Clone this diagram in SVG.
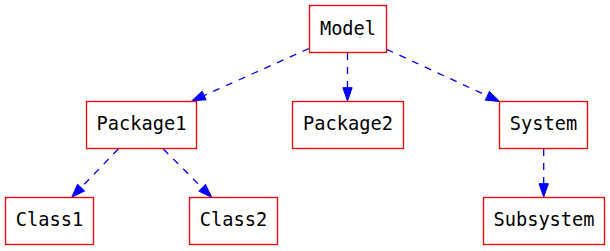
<svg xmlns="http://www.w3.org/2000/svg" width="610" height="251" viewBox="0 0 610 251">
<style>
.node rect{fill:#fff;stroke:#ff0000;stroke-width:1.33}
.node text{font-family:"DejaVu Sans Mono","Liberation Mono",monospace;font-size:18.67px;fill:#000;text-anchor:middle}
.edge{fill:none;stroke:#0000ff;stroke-width:1.33;stroke-dasharray:7,7}
</style>
<defs>
<marker id="arr" markerUnits="userSpaceOnUse" markerWidth="16" markerHeight="12" refX="0" refY="6" orient="auto" viewBox="0 0 16 12" overflow="visible">
<path d="M0,1.33 L13.33,6 L0,10.67 Z" fill="#0000ff" stroke="#0000ff" stroke-width="1"/>
</marker>
</defs>
<rect width="610" height="251" fill="#fff"/>
<g id="edges">
<path class="edge" d="M309,48.5 L204.1,95.5" marker-end="url(#arr)"/>
<path class="edge" d="M347.5,53 L347.5,87.7" marker-end="url(#arr)"/>
<path class="edge" d="M386.7,49.3 L487.4,95.9" marker-end="url(#arr)"/>
<path class="edge" d="M543.7,149 L543.7,183.7" marker-end="url(#arr)"/>
<path class="edge" d="M118.3,149 L80.95,187.7" marker-end="url(#arr)"/>
<path class="edge" d="M163.3,149 L202.3,187.9" marker-end="url(#arr)"/>
</g>
<g id="Model" class="node"><rect x="309.5" y="5.5" width="77" height="47"/><text x="348" y="34.5">Model</text></g>
<g id="Package1" class="node"><rect x="86.5" y="101.5" width="110" height="47"/><text x="141.5" y="130">Package1</text></g>
<g id="Package2" class="node"><rect x="292.5" y="101.5" width="111" height="47"/><text x="348" y="130">Package2</text></g>
<g id="System" class="node"><rect x="499.5" y="101.5" width="88" height="47"/><text x="543.5" y="130">System</text></g>
<g id="Class1" class="node"><rect x="5.5" y="197.5" width="88" height="47"/><text x="49.5" y="226">Class1</text></g>
<g id="Class2" class="node"><rect x="189.5" y="197.5" width="88" height="47"/><text x="233.5" y="226">Class2</text></g>
<g id="Subsystem" class="node"><rect x="483.5" y="197.5" width="121" height="47"/><text x="544" y="226">Subsystem</text></g>
</svg>
